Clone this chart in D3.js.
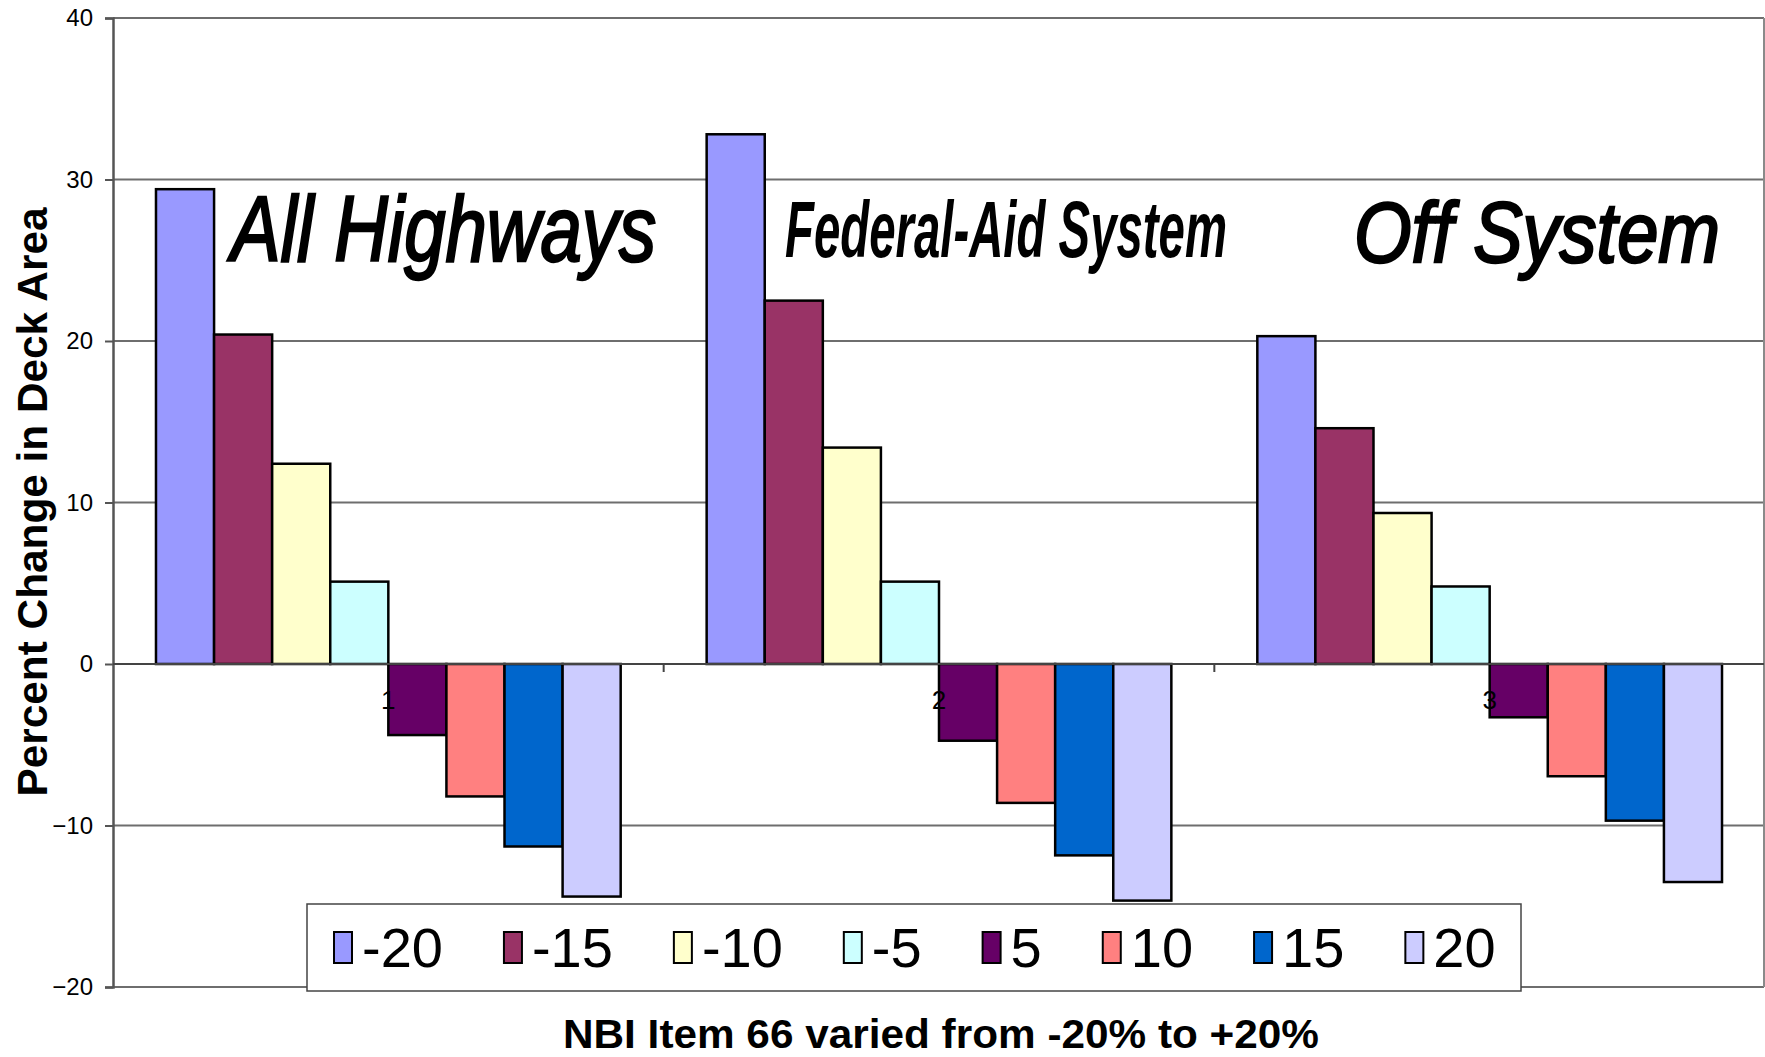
<!DOCTYPE html>
<html>
<head>
<meta charset="utf-8">
<script src="https://cdn.jsdelivr.net/npm/d3@7"></script>
<style>
  body { margin: 0; background: #fff; }
  svg { display: block; }
  text { font-family: Arial, "Liberation Sans", sans-serif; }
</style>
</head>
<body>
<div id="chart"></div>
<script>
  // data
  var categories = ["1", "2", "3"];
  var series = ["-20", "-15", "-10", "-5", "5", "10", "15", "20"];
  var colors = ["#9999FF", "#993366", "#FFFFCC", "#CCFFFF", "#660066", "#FF8080", "#0066CC", "#CCCCFF"];
  var allHighways = [29.4, 20.4, 12.4, 5.1, -4.4, -8.2, -11.3, -14.4];
  var federalAid = [32.8, 22.5, 13.4, 5.1, -4.75, -8.6, -11.85, -14.65];
  var offSystem = [20.3, 14.6, 9.35, 4.8, -3.3, -6.95, -9.7, -13.5];
  var yTicks = [-20, -10, 0, 10, 20, 30, 40];
  var groupTitles = ["All Highways", "Federal-Aid System", "Off System"];
  var yTitle = "Percent Change in Deck Area";
  var xTitle = "NBI Item 66 varied from -20% to +20%";

  var width = 1765, height = 1057;
  var plot = { left: 113, top: 18, right: 1764, bottom: 987 };

  var groups = [allHighways, federalAid, offSystem];
  var cells = [];
  groups.forEach(function(vals, gi) {
    vals.forEach(function(v, si) {
      cells.push({ cat: categories[gi], s: series[si], color: colors[si], value: v });
    });
  });

  var svg = d3.select("#chart")
              .append("svg")
              .attr("width", width)
              .attr("height", height);

  var y = d3.scaleLinear()
      .domain([-20, 40])
      .range([plot.bottom, plot.top]);

  var x0 = d3.scaleBand()
      .domain(categories)
      .range([plot.left, plot.right + 1])
      .padding(0);

  var x1 = d3.scaleBand()
      .domain(series)
      .range([0, x0.bandwidth()])
      .paddingInner(0)
      .paddingOuter(0.74);

  // gridlines
  svg.append("g")
     .selectAll("line")
     .data(yTicks.filter(function(d) { return d !== 0; }))
     .join("line")
     .attr("x1", plot.left)
     .attr("x2", plot.right)
     .attr("y1", function(d) { return y(d); })
     .attr("y2", function(d) { return y(d); })
     .attr("stroke", "#6e6e6e")
     .attr("stroke-width", 2);

  // right edge of plot area
  svg.append("line")
     .attr("x1", plot.right).attr("x2", plot.right)
     .attr("y1", plot.top).attr("y2", plot.bottom)
     .attr("stroke", "#8a8a8a").attr("stroke-width", 2);

  // y axis
  var yAxis = d3.axisLeft(y)
      .tickValues(yTicks)
      .tickSize(8)
      .tickPadding(12);

  var ya = svg.append("g")
      .attr("transform", "translate(" + plot.left + ",0)")
      .call(yAxis);
  ya.select(".domain").attr("stroke", "#555").attr("stroke-width", 2.5);
  ya.selectAll(".tick line").attr("stroke", "#555").attr("stroke-width", 2);
  ya.selectAll(".tick text")
    .attr("fill", "#000")
    .style("font-size", "24px")
    .style("font-family", "Arial, 'Liberation Sans', sans-serif");

  // bars
  svg.append("g")
     .selectAll("rect")
     .data(cells)
     .join("rect")
     .attr("x", function(d) { return x0(d.cat) + x1(d.s); })
     .attr("width", x1.bandwidth())
     .attr("y", function(d) { return y(Math.max(0, d.value)); })
     .attr("height", function(d) { return Math.abs(y(d.value) - y(0)); })
     .attr("fill", function(d) { return d.color; })
     .attr("stroke", "#000")
     .attr("stroke-width", 2.5);

  // category axis at zero
  svg.append("line")
     .attr("x1", plot.left).attr("x2", plot.right)
     .attr("y1", y(0)).attr("y2", y(0))
     .attr("stroke", "#444").attr("stroke-width", 2);

  svg.append("g")
     .selectAll("line")
     .data(categories.slice(1))
     .join("line")
     .attr("x1", function(d) { return x0(d); })
     .attr("x2", function(d) { return x0(d); })
     .attr("y1", y(0))
     .attr("y2", y(0) + 8)
     .attr("stroke", "#444").attr("stroke-width", 2);

  svg.append("g")
     .selectAll("text")
     .data(categories)
     .join("text")
     .attr("x", function(d) { return x0(d) + x0.bandwidth() / 2; })
     .attr("y", y(0) + 45)
     .attr("text-anchor", "middle")
     .style("font-size", "26px")
     .text(function(d) { return d; });

  // group titles
  var titlePos = [
    { x: 231, y: 261, size: 93, len: 425, weight: "normal", sw: 2.5 },
    { x: 785, y: 257, size: 80, len: 442, weight: "bold", sw: 0 },
    { x: 1354, y: 262, size: 85, len: 366, weight: "normal", sw: 2.5 }
  ];
  svg.append("g")
     .selectAll("text")
     .data(groupTitles)
     .join("text")
     .attr("x", function(d, i) { return titlePos[i].x; })
     .attr("y", function(d, i) { return titlePos[i].y; })
     .attr("textLength", function(d, i) { return titlePos[i].len; })
     .attr("lengthAdjust", "spacingAndGlyphs")
     .attr("stroke", "#000")
     .attr("stroke-width", function(d, i) { return titlePos[i].sw; })
     .style("font-size", function(d, i) { return titlePos[i].size + "px"; })
     .style("font-style", "italic")
     .style("font-weight", function(d, i) { return titlePos[i].weight; })
     .text(function(d) { return d; });

  // axis titles
  svg.append("text")
     .attr("transform", "translate(47," + 502 + ") rotate(-90)")
     .attr("text-anchor", "middle")
     .attr("textLength", 589)
     .attr("lengthAdjust", "spacingAndGlyphs")
     .style("font-size", "42px")
     .style("font-weight", "bold")
     .text(yTitle);

  svg.append("text")
     .attr("x", (563 + 1319) / 2)
     .attr("y", 1048)
     .attr("text-anchor", "middle")
     .attr("textLength", 756)
     .attr("lengthAdjust", "spacingAndGlyphs")
     .style("font-size", "40px")
     .style("font-weight", "bold")
     .text(xTitle);

  // legend
  var legend = svg.append("g");
  legend.append("rect")
        .attr("x", 307).attr("y", 904)
        .attr("width", 1214).attr("height", 87)
        .attr("fill", "#fff")
        .attr("stroke", "#444").attr("stroke-width", 1.5);

  var lx = 334;
  series.forEach(function(s, i) {
    var item = legend.append("g").attr("transform", "translate(" + lx + ",0)");
    item.append("rect")
        .attr("x", 0).attr("y", 932)
        .attr("width", 18).attr("height", 31)
        .attr("fill", colors[i])
        .attr("stroke", "#000").attr("stroke-width", 2);
    var t = item.append("text")
        .attr("x", 28)
        .attr("y", 967)
        .style("font-size", "56px")
        .text(s);
    lx += 28 + t.node().getComputedTextLength() + 61;
  });
</script>
</body>
</html>
